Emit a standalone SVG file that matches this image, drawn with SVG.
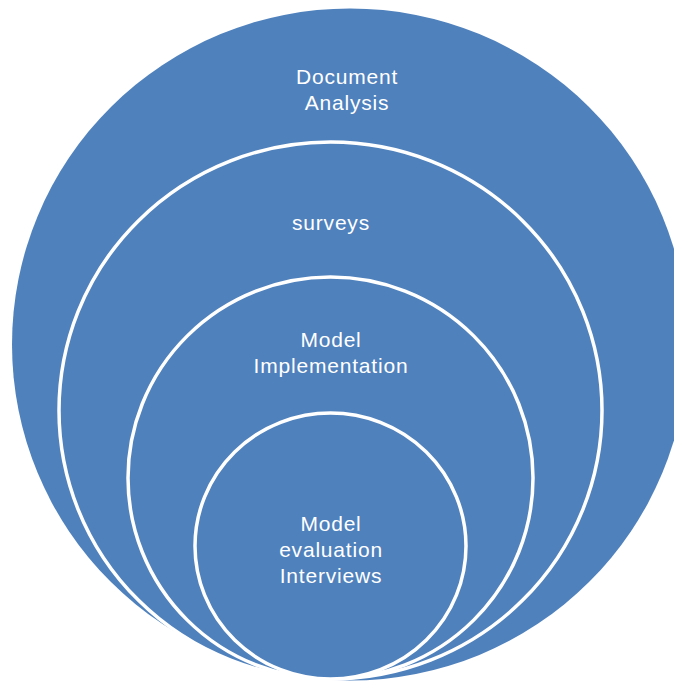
<svg xmlns="http://www.w3.org/2000/svg" width="674" height="681" viewBox="0 0 674 681">
  <style>
    .ring { fill: #4F81BD; stroke: #FFFFFF; stroke-width: 3.5; }
    .outer { fill: #4F81BD; stroke: none; }
    .lbl { font-family: "Liberation Sans", Arial, sans-serif; font-size: 21px; fill: #FFFFFF; text-anchor: middle; letter-spacing: 0.8px; }
  </style>
  <rect width="674" height="681" fill="#FFFFFF"/>
  <g id="node-document-analysis">
    <ellipse class="outer" cx="350" cy="344.5" rx="338" ry="336"/>
    <text class="lbl" x="347" y="84">Document</text>
    <text class="lbl" x="347" y="110">Analysis</text>
  </g>
  <g id="node-surveys">
    <ellipse class="ring" cx="330.5" cy="410.5" rx="271.5" ry="268.5"/>
    <text class="lbl" x="331" y="230">surveys</text>
  </g>
  <g id="node-model-implementation">
    <ellipse class="ring" cx="330.5" cy="478" rx="202.5" ry="201"/>
    <text class="lbl" x="331" y="347">Model</text>
    <text class="lbl" x="331" y="373">Implementation</text>
  </g>
  <g id="node-model-evaluation">
    <ellipse class="ring" cx="330.5" cy="546" rx="135.5" ry="133"/>
    <text class="lbl" x="331" y="531">Model</text>
    <text class="lbl" x="331" y="557">evaluation</text>
    <text class="lbl" x="331" y="583">Interviews</text>
  </g>
  <g id="connectors"/>
</svg>
